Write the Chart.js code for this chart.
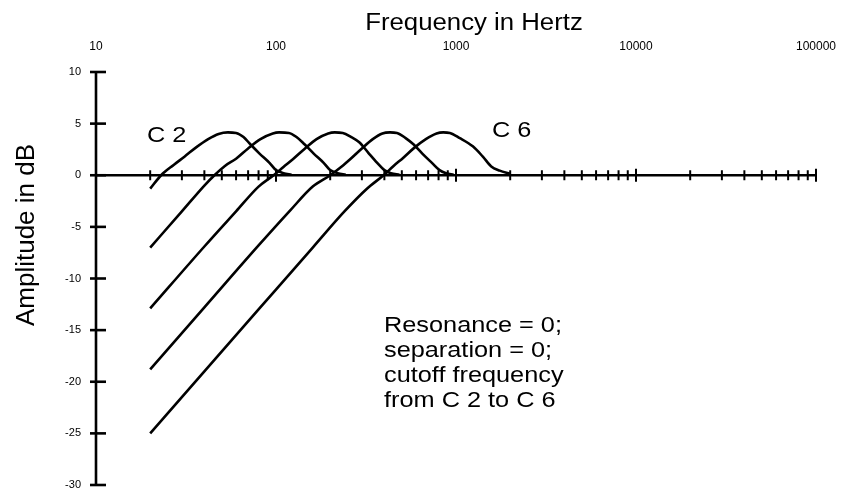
<!DOCTYPE html>
<html>
<head>
<meta charset="utf-8">
<title>Filter response</title>
<script src="https://cdn.jsdelivr.net/npm/chart.js@4.4.0/dist/chart.umd.min.js"></script>
<style>
  html, body { margin: 0; padding: 0; background: #fff; }
</style>
</head>
<body>
<canvas id="filterChart" width="843" height="492"></canvas>
<script>
// Axis ticks
var freqTicks = [10, 100, 1000, 10000, 100000];
var dbTicks = [-30, -25, -20, -15, -10, -5, 0, 5, 10];

// One curve per cutoff, frequency in Hz / amplitude in dB
var c2Hz = [20, 23, 27, 31, 36, 42, 48, 54, 60, 66, 72, 81, 92, 100, 110, 122];
var c2dB = [-1.3, 0, 1.0, 1.8, 2.7, 3.5, 4.0, 4.15, 4.1, 3.7, 3.0, 2.1, 1.2, 0.5, 0.2, 0.05];

var c3Hz = [20, 30, 40, 45.5, 52, 60, 70, 82, 96, 104, 118, 130, 144, 162, 184, 200, 220, 244];
var c3dB = [-7.0, -3.5, -1.0, 0, 0.9, 1.6, 2.6, 3.5, 4.05, 4.15, 4.1, 3.7, 3.0, 2.1, 1.2, 0.5, 0.2, 0.05];

var c4Hz = [20, 40, 60, 80, 97, 110, 125, 145, 168, 195, 212, 235, 262, 290, 325, 365, 400, 435, 485];
var c4dB = [-12.9, -6.9, -3.5, -1.1, 0, 0.8, 1.6, 2.6, 3.5, 4.05, 4.15, 4.1, 3.7, 3.2, 2.2, 1.2, 0.5, 0.2, 0.05];

var c5Hz = [20, 40, 80, 120, 160, 200, 230, 260, 300, 345, 390, 430, 470, 525, 580, 650, 735, 810, 880, 970];
var c5dB = [-18.8, -12.8, -6.8, -3.4, -1.1, 0, 0.8, 1.6, 2.6, 3.5, 4.05, 4.15, 4.1, 3.6, 3.0, 2.1, 1.2, 0.5, 0.2, 0.05];

var c6Hz = [20, 40, 80, 160, 240, 320, 396, 450, 510, 590, 680, 780, 850, 925, 1050, 1240, 1410, 1570, 1750, 1990];
var c6dB = [-25.0, -19.0, -13.0, -7.0, -3.5, -1.3, 0, 0.9, 1.7, 2.7, 3.5, 4.05, 4.15, 4.1, 3.6, 2.8, 1.8, 0.85, 0.45, 0.15];

var curveNames = ["C 2", "C 3", "C 4", "C 5", "C 6"];
var noteLines = ["Resonance = 0;", "separation = 0;", "cutoff frequency", "from C 2 to C 6"];

var FONT = '"Liberation Sans", Arial, Helvetica, sans-serif';

function toPoints(hz, db) {
  return hz.map(function (f, i) { return { x: f, y: db[i] }; });
}

function curve(label, hz, db) {
  return {
    label: label,
    data: toPoints(hz, db),
    borderColor: "#000",
    borderWidth: 2.6,
    pointRadius: 0,
    fill: false,
    cubicInterpolationMode: "monotone"
  };
}

// text a little wider than the font, like the original
function wideText(ctx, text, x, y, sx) {
  ctx.save();
  ctx.translate(x, y);
  ctx.scale(sx, 1);
  ctx.fillText(text, 0, 0);
  ctx.restore();
}

// Axis lines and cross ticks (x axis sits at 0 dB)
var axisPlugin = {
  id: "axisMarks",
  beforeDatasetsDraw: function (chart) {
    var ctx = chart.ctx;
    var xs = chart.scales.x;
    var ys = chart.scales.y;
    var x0 = xs.getPixelForValue(10);
    var yZero = ys.getPixelForValue(0);
    ctx.save();
    ctx.strokeStyle = "#000";
    ctx.lineWidth = 2.6;
    // y axis
    ctx.beginPath();
    ctx.moveTo(x0, ys.getPixelForValue(10));
    ctx.lineTo(x0, ys.getPixelForValue(-30));
    ctx.stroke();
    dbTicks.forEach(function (v) {
      var y = ys.getPixelForValue(v);
      ctx.beginPath();
      ctx.moveTo(x0 - 6, y);
      ctx.lineTo(x0 + 10, y);
      ctx.stroke();
    });
    // x axis at 0 dB
    ctx.beginPath();
    ctx.moveTo(x0, yZero);
    ctx.lineTo(xs.getPixelForValue(100000), yZero);
    ctx.stroke();
    ctx.lineWidth = 2;
    for (var d = 0; d < freqTicks.length - 1; d++) {
      for (var m = 2; m <= 10; m++) {
        var x = xs.getPixelForValue(freqTicks[d] * m);
        var h = m === 10 ? 6.5 : 5;
        ctx.beginPath();
        ctx.moveTo(x, yZero - h);
        ctx.lineTo(x, yZero + h);
        ctx.stroke();
      }
    }
    ctx.restore();
  },
  afterDraw: function (chart) {
    var ctx = chart.ctx;
    ctx.save();
    ctx.fillStyle = "#000";
    ctx.textBaseline = "alphabetic";
    ctx.font = "23px " + FONT;
    ctx.textAlign = "center";
    wideText(ctx, "Frequency in Hertz", 474, 30, 1.12);
    ctx.textAlign = "left";
    ctx.font = "22px " + FONT;
    wideText(ctx, curveNames[0], 147, 142, 1.15);
    wideText(ctx, curveNames[4], 492, 137, 1.15);
    noteLines.forEach(function (t, i) {
      wideText(ctx, t, 384, 332 + i * 25, 1.15);
    });
    ctx.font = "26px " + FONT;
    ctx.translate(34, 235);
    ctx.rotate(-Math.PI / 2);
    ctx.textAlign = "center";
    ctx.fillText("Amplitude in dB", 0, 0);
    ctx.restore();
  }
};

new Chart(document.getElementById("filterChart").getContext("2d"), {
  type: "line",
  data: {
    datasets: [
      curve(curveNames[0], c2Hz, c2dB),
      curve(curveNames[1], c3Hz, c3dB),
      curve(curveNames[2], c4Hz, c4dB),
      curve(curveNames[3], c5Hz, c5dB),
      curve(curveNames[4], c6Hz, c6dB)
    ]
  },
  options: {
    responsive: false,
    animation: false,
    devicePixelRatio: 1,
    layout: { padding: { top: 34, right: 27, bottom: 7, left: 0 } },
    plugins: { legend: { display: false }, tooltip: { enabled: false } },
    scales: {
      x: {
        type: "logarithmic",
        position: "top",
        min: 10,
        max: 100000,
        afterBuildTicks: function (scale) {
          scale.ticks = freqTicks.map(function (v) { return { value: v }; });
        },
        afterFit: function (scale) {
          scale.height = 38;
          scale.paddingLeft = 0;
          scale.paddingRight = 0;
        },
        ticks: {
          autoSkip: false,
          maxRotation: 0,
          color: "#000",
          padding: 18,
          font: { family: FONT, size: 12 },
          callback: function (v) { return String(v); }
        },
        grid: { display: false, drawTicks: false },
        border: { display: false }
      },
      y: {
        min: -30,
        max: 10,
        afterBuildTicks: function (scale) {
          scale.ticks = dbTicks.map(function (v) { return { value: v }; });
        },
        afterFit: function (scale) {
          scale.width = 96;
          scale.paddingTop = 0;
          scale.paddingBottom = 0;
        },
        ticks: {
          color: "#000",
          padding: 15,
          font: { family: FONT, size: 11 }
        },
        grid: { display: false, drawTicks: false },
        border: { display: false }
      }
    }
  },
  plugins: [axisPlugin]
});
</script>
</body>
</html>
